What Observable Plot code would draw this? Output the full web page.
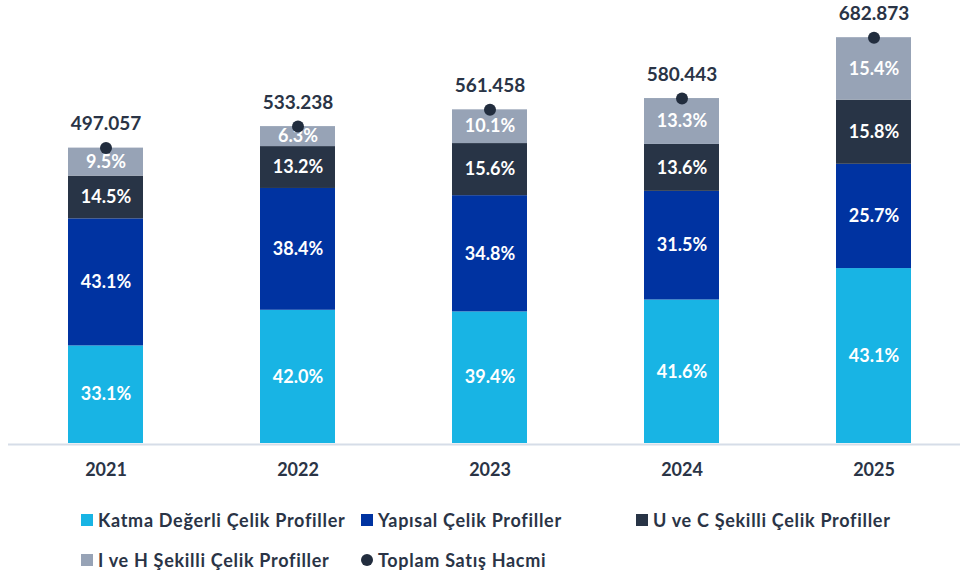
<!DOCTYPE html>
<html>
<head>
<meta charset="utf-8">
<script src="https://cdn.jsdelivr.net/npm/d3@7"></script>
<script src="https://cdn.jsdelivr.net/npm/@observablehq/plot@0.6"></script>
<style>
  body { margin: 0; background: #fff; font-family: Lato, "Open Sans", sans-serif; }
  #legend { display: grid; grid-template-columns: 280px 275px auto; padding-left: 81px; margin-top: 10px;
            font-weight: bold; font-size: 18px; letter-spacing: 0.7px; color: #2a3446; }
  #legend .item { display: flex; align-items: center; height: 40px; }
  #legend .sw { width: 12px; height: 12px; margin-right: 5px; flex: none; }
  #legend .dot { border-radius: 50%; }
</style>
</head>
<body>
<div id="chart"></div>
<div id="legend"></div>
<script>
const years = ["2021", "2022", "2023", "2024", "2025"];
const totals = [497.057, 533.238, 561.458, 580.443, 682.873];
const seriesNames = ["Katma Değerli Çelik Profiller", "Yapısal Çelik Profiller", "U ve C Şekilli Çelik Profiller", "I ve H Şekilli Çelik Profiller"];
const katma = [33.1, 42.0, 39.4, 41.6, 43.1];
const yapisal = [43.1, 38.4, 34.8, 31.5, 25.7];
const uc = [14.5, 13.2, 15.6, 13.6, 15.8];
const ih = [9.5, 6.3, 10.1, 13.3, 15.4];
const totalName = "Toplam Satış Hacmi";
const colors = ["#18b4e4", "#0033a1", "#283446", "#97a3b6"];
const dotColor = "#222d3e";
const textColor = "#2a3446";

const shares = [katma, yapisal, uc, ih];
const rows = [];
years.forEach((yr, i) => {
  const sum = d3.sum(shares, s => s[i]);
  shares.forEach((s, k) => {
    rows.push({year: yr, series: seriesNames[k], pct: s[i], value: totals[i] * s[i] / sum});
  });
});
const totalRows = years.map((yr, i) => ({year: yr, total: totals[i]}));

const font = "Lato, 'Open Sans', sans-serif";
const chart = Plot.plot({
  width: 960,
  height: 490,
  marginLeft: 8,
  marginRight: 0,
  marginTop: 27,
  marginBottom: 47,
  style: {fontFamily: font, background: "#fff"},
  x: {domain: years, paddingInner: 0.61, paddingOuter: 0.278, align: 0.552},
  y: {domain: [0, 700], axis: null},
  color: {domain: seriesNames, range: colors},
  marks: [
    Plot.barY(rows, {x: "year", y: "value", fill: "series", order: seriesNames}),
    Plot.ruleY([0], {stroke: "#d6dde8", strokeWidth: 2, dy: 1}),
    Plot.text(rows, Plot.stackY({x: "year", y: "value", z: "series", order: seriesNames,
      text: d => d3.format(".1f")(d.pct) + "%", fill: "white", fontSize: 18, fontWeight: "bold", fontFamily: font})),
    Plot.dot(totalRows, {x: "year", y: "total", r: 6, fill: dotColor}),
    Plot.text(totalRows, {x: "year", y: "total", text: d => d3.format(".3f")(d.total), dy: -24,
      fill: textColor, fontSize: 19, fontWeight: "bold", fontFamily: font}),
    Plot.axisX({tickSize: 0, tickPadding: 20, fontSize: 18, fontWeight: "bold", fill: textColor, label: null})
  ]
});
document.getElementById("chart").appendChild(chart);

const legendItems = [
  {label: seriesNames[0], color: colors[0], dot: false},
  {label: seriesNames[1], color: colors[1], dot: false},
  {label: seriesNames[2], color: colors[2], dot: false},
  {label: seriesNames[3], color: colors[3], dot: false},
  {label: totalName, color: dotColor, dot: true}
];
const legend = document.getElementById("legend");
legendItems.forEach(it => {
  const d = document.createElement("div");
  d.className = "item";
  const sw = document.createElement("span");
  sw.className = "sw" + (it.dot ? " dot" : "");
  sw.style.background = it.color;
  const t = document.createElement("span");
  t.textContent = it.label;
  d.appendChild(sw); d.appendChild(t);
  legend.appendChild(d);
});
</script>
</body>
</html>
